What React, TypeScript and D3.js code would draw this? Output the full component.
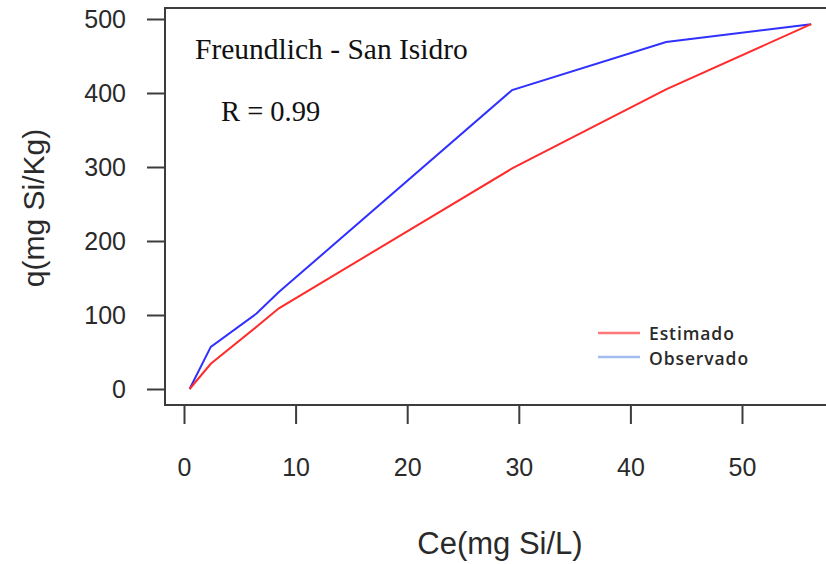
import React, { useEffect, useRef } from 'react'
import * as d3 from 'd3'

// Ce values (mg Si/L)
const ce = [0.5, 2.4, 6.5, 8.5, 29.4, 43.2, 56.2]
const observado = [0, 57, 102, 131, 404, 469, 493]
const estimado = [0, 34, 84, 109, 298, 405, 493]
const xTicks = [0, 10, 20, 30, 40, 50]
const yTicks = [0, 100, 200, 300, 400, 500]
const legendLabels = ['Estimado', 'Observado']

export default function App() {
  const ref = useRef<SVGSVGElement>(null)

  useEffect(() => {
    const svg = d3.select(ref.current)
    svg.selectAll('*').remove()

    const x = d3.scaleLinear().domain([0, 50]).range([184, 742])
    const y = d3.scaleLinear().domain([0, 500]).range([389, 19])
    const left = 165
    const top = 8
    const bottom = 405

    // box (right side runs off the picture)
    svg.append('path')
      .attr('d', `M900,${top}H${left}V${bottom}H900`)
      .attr('fill', 'none')
      .attr('stroke', '#3c3c3c')
      .attr('stroke-width', 2)

    const yAxis = svg.append('g')
      .attr('transform', `translate(${left},0)`)
      .call(d3.axisLeft(y).tickValues(yTicks).tickSize(18).tickPadding(21))
    yAxis.select('.domain').remove()

    const xAxis = svg.append('g')
      .attr('transform', `translate(0,${bottom})`)
      .call(d3.axisBottom(x).tickValues(xTicks).tickSize(19).tickPadding(34))
    xAxis.select('.domain').remove()

    svg.selectAll('.tick line').attr('stroke', '#3c3c3c').attr('stroke-width', 2)
    svg.selectAll('.tick text')
      .attr('fill', '#2a2a2a')
      .style('font-family', '"Liberation Sans", Arial, sans-serif')
      .style('font-size', '25px')

    const line = d3.line<number>()
      .x((d, i) => x(ce[i]))
      .y(d => y(d))

    svg.append('path')
      .datum(observado)
      .attr('d', line)
      .attr('fill', 'none')
      .attr('stroke', '#3030ff')
      .attr('stroke-width', 2)

    svg.append('path')
      .datum(estimado)
      .attr('d', line)
      .attr('fill', 'none')
      .attr('stroke', '#ff2a2a')
      .attr('stroke-width', 2)

    // axis titles
    svg.append('text')
      .attr('x', 500)
      .attr('y', 554)
      .attr('text-anchor', 'middle')
      .attr('fill', '#2a2a2a')
      .style('font-family', '"Liberation Sans", Arial, sans-serif')
      .style('font-size', '31px')
      .text('Ce(mg Si/L)')

    svg.append('text')
      .attr('transform', 'translate(44,208) rotate(-90)')
      .attr('text-anchor', 'middle')
      .attr('fill', '#2a2a2a')
      .style('font-family', '"Liberation Sans", Arial, sans-serif')
      .style('font-size', '30px')
      .text('q(mg Si/Kg)')

    // annotations
    svg.append('text')
      .attr('x', 195)
      .attr('y', 59)
      .attr('fill', '#111')
      .style('font-family', '"Liberation Serif", "Times New Roman", serif')
      .style('font-size', '29.5px')
      .text('Freundlich - San Isidro')

    svg.append('text')
      .attr('x', 221)
      .attr('y', 121)
      .attr('fill', '#111')
      .style('font-family', '"Liberation Serif", "Times New Roman", serif')
      .style('font-size', '28.5px')
      .text('R = 0.99')

    // legend
    const legendColors = ['#ff7878', '#a3bdf0']
    const lg = svg.append('g').attr('transform', 'translate(598,333)')
    legendLabels.forEach((lab, i) => {
      lg.append('line')
        .attr('x1', 0).attr('x2', 42)
        .attr('y1', i * 24).attr('y2', i * 24)
        .attr('stroke', legendColors[i])
        .attr('stroke-width', 2.5)
      lg.append('text')
        .attr('x', 51)
        .attr('y', i * 25 + 7)
        .attr('fill', '#2a2a2a')
        .style('font-family', '"Open Sans", sans-serif')
        .style('font-size', '17.5px')
        .style('font-weight', 600)
        .style('letter-spacing', '0.9px')
        .text(lab)
    })
  }, [])

  return (
    <div style={{ position: 'fixed', left: 0, top: 0, background: '#fff' }}>
      <svg ref={ref} width={826} height={564}></svg>
    </div>
  )
}
